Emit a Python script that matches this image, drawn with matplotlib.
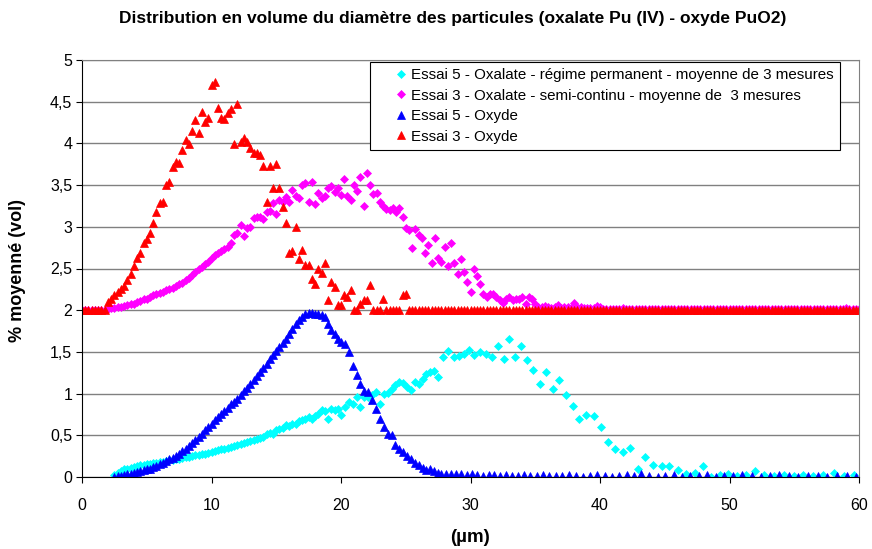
import matplotlib
matplotlib.use('Agg')
import matplotlib.pyplot as plt
from matplotlib.ticker import FuncFormatter

plt.rcParams['font.family'] = ['Liberation Sans', 'DejaVu Sans']

# ---- Essai 3 (oxalate semi-continu and oxyde), offset +2 on the chart ----
x_essai3 = [
    0.0, 0.25, 0.5, 0.75, 1.0, 1.25, 1.5, 1.75,
    2.0, 2.25, 2.5, 2.75, 3.0, 3.25, 3.5, 3.75,
    4.0, 4.25, 4.5, 4.75, 5.0, 5.25, 5.5, 5.75,
    6.0, 6.25, 6.5, 6.75, 7.0, 7.25, 7.5, 7.75,
    8.0, 8.25, 8.5, 8.75, 9.0, 9.25, 9.5, 9.75,
    10.0, 10.25, 10.5, 10.75, 11.0, 11.25, 11.5, 11.75,
    12.0, 12.25, 12.5, 12.75, 13.0, 13.25, 13.5, 13.75,
    14.0, 14.25, 14.5, 14.75, 15.0, 15.25, 15.5, 15.75,
    16.0, 16.25, 16.5, 16.75, 17.0, 17.25, 17.5, 17.75,
    18.0, 18.25, 18.5, 18.75, 19.0, 19.25, 19.5, 19.75,
    20.0, 20.25, 20.5, 20.75, 21.0, 21.25, 21.5, 21.75,
    22.0, 22.25, 22.5, 22.75, 23.0, 23.25, 23.5, 23.75,
    24.0, 24.25, 24.5, 24.75, 25.0, 25.25, 25.5, 25.75,
    26.0, 26.25, 26.5, 26.75, 27.0, 27.25, 27.5, 27.75,
    28.0, 28.25, 28.5, 28.75, 29.0, 29.25, 29.5, 29.75,
    30.0, 30.25, 30.5, 30.75, 31.0, 31.25, 31.5, 31.75,
    32.0, 32.25, 32.5, 32.75, 33.0, 33.25, 33.5, 33.75,
    34.0, 34.25, 34.5, 34.75, 35.0, 35.25, 35.5, 35.75,
    36.0, 36.25, 36.5, 36.75, 37.0, 37.25, 37.5, 37.75,
    38.0, 38.25, 38.5, 38.75, 39.0, 39.25, 39.5, 39.75,
    40.0, 40.25, 40.5, 40.75, 41.0, 41.25, 41.5, 41.75,
    42.0, 42.25, 42.5, 42.75, 43.0, 43.25, 43.5, 43.75,
    44.0, 44.25, 44.5, 44.75, 45.0, 45.25, 45.5, 45.75,
    46.0, 46.25, 46.5, 46.75, 47.0, 47.25, 47.5, 47.75,
    48.0, 48.25, 48.5, 48.75, 49.0, 49.25, 49.5, 49.75,
    50.0, 50.25, 50.5, 50.75, 51.0, 51.25, 51.5, 51.75,
    52.0, 52.25, 52.5, 52.75, 53.0, 53.25, 53.5, 53.75,
    54.0, 54.25, 54.5, 54.75, 55.0, 55.25, 55.5, 55.75,
    56.0, 56.25, 56.5, 56.75, 57.0, 57.25, 57.5, 57.75,
    58.0, 58.25, 58.5, 58.75, 59.0, 59.25, 59.5, 59.75,
    60.0,
]

oxalate_essai3 = [
    2.0, 2.0, 2.0, 2.0, 2.0, 2.0, 2.0, 2.0,
    2.02, 2.03, 2.03, 2.04, 2.04, 2.05, 2.06, 2.07,
    2.08, 2.10, 2.11, 2.13, 2.14, 2.16, 2.18, 2.19,
    2.21, 2.22, 2.24, 2.26, 2.27, 2.29, 2.31, 2.33,
    2.36, 2.39, 2.42, 2.46, 2.49, 2.52, 2.55, 2.58,
    2.62, 2.66, 2.69, 2.71, 2.73, 2.76, 2.80, 2.90,
    2.92, 3.02, 2.89, 2.98, 3.00, 3.10, 3.12, 3.12,
    3.09, 3.18, 3.19, 3.29, 3.15, 3.32, 3.30, 3.36,
    3.30, 3.44, 3.37, 3.34, 3.50, 3.53, 3.30, 3.54,
    3.27, 3.41, 3.34, 3.37, 3.47, 3.49, 3.42, 3.46,
    3.38, 3.57, 3.37, 3.32, 3.50, 3.43, 3.60, 3.25,
    3.64, 3.50, 3.39, 3.41, 3.30, 3.25, 3.21, 3.20,
    3.22, 3.18, 3.22, 3.12, 2.98, 2.96, 2.74, 2.97,
    2.90, 2.86, 2.69, 2.78, 2.56, 2.86, 2.62, 2.58,
    2.76, 2.53, 2.81, 2.56, 2.43, 2.61, 2.46, 2.34,
    2.22, 2.49, 2.41, 2.31, 2.19, 2.16, 2.19, 2.19,
    2.16, 2.12, 2.09, 2.14, 2.16, 2.12, 2.13, 2.13,
    2.16, 2.07, 2.16, 2.14, 2.08, 2.04, 2.04, 2.05,
    2.04, 2.03, 2.04, 2.06, 2.03, 2.04, 2.04, 2.03,
    2.09, 2.04, 2.04, 2.03, 2.03, 2.03, 2.03, 2.05,
    2.04, 2.02, 2.02, 2.02, 2.02, 2.02, 2.01, 2.03,
    2.02, 2.01, 2.02, 2.01, 2.01, 2.02, 2.01, 2.01,
    2.01, 2.02, 2.01, 2.01, 2.02, 2.01, 2.01, 2.01,
    2.02, 2.01, 2.01, 2.01, 2.02, 2.01, 2.01, 2.02,
    2.01, 2.01, 2.01, 2.02, 2.01, 2.01, 2.01, 2.01,
    2.02, 2.01, 2.01, 2.01, 2.01, 2.02, 2.01, 2.01,
    2.01, 2.01, 2.02, 2.01, 2.01, 2.01, 2.01, 2.02,
    2.01, 2.01, 2.01, 2.01, 2.02, 2.01, 2.01, 2.01,
    2.01, 2.02, 2.01, 2.01, 2.01, 2.01, 2.02, 2.01,
    2.01, 2.01, 2.01, 2.01, 2.03, 2.02, 2.01, 2.01,
    2.01,
]

oxyde_essai3 = [
    2.0, 2.0, 2.0, 2.0, 2.0, 2.0, 2.0, 2.0,
    2.10, 2.14, 2.18, 2.22, 2.25, 2.29, 2.36, 2.44,
    2.53, 2.62, 2.68, 2.80, 2.85, 2.93, 3.04, 3.18,
    3.28, 3.30, 3.50, 3.54, 3.72, 3.78, 3.76, 3.92,
    4.04, 3.99, 4.15, 4.28, 4.12, 4.38, 4.26, 4.30,
    4.70, 4.74, 4.43, 4.31, 4.29, 4.36, 4.41, 3.99,
    4.47, 4.02, 4.06, 4.02, 3.95, 3.88, 3.89, 3.86,
    3.73, 3.30, 3.73, 3.46, 3.75, 3.46, 3.24, 3.04,
    2.68, 2.71, 3.00, 2.61, 2.72, 2.54, 2.54, 2.38,
    2.31, 2.49, 2.45, 2.56, 2.12, 2.34, 2.28, 2.06,
    2.06, 2.18, 2.16, 2.24, 2.00, 2.00, 2.08, 2.12,
    2.12, 2.30, 2.00, 2.00, 2.00, 2.14, 2.00, 2.00,
    2.00, 2.00, 2.00, 2.18, 2.19, 2.00, 2.00, 2.00,
    2.0, 2.0, 2.0, 2.0, 2.0, 2.0, 2.0, 2.0,
    2.0, 2.0, 2.0, 2.0, 2.0, 2.0, 2.0, 2.0,
    2.0, 2.0, 2.0, 2.0, 2.0, 2.0, 2.0, 2.0,
    2.0, 2.0, 2.0, 2.0, 2.0, 2.0, 2.0, 2.0,
    2.0, 2.0, 2.0, 2.0, 2.0, 2.0, 2.0, 2.0,
    2.0, 2.0, 2.0, 2.0, 2.0, 2.0, 2.0, 2.0,
    2.0, 2.0, 2.0, 2.0, 2.0, 2.0, 2.0, 2.0,
    2.0, 2.0, 2.0, 2.0, 2.0, 2.0, 2.0, 2.0,
    2.0, 2.0, 2.0, 2.0, 2.0, 2.0, 2.0, 2.0,
    2.0, 2.0, 2.0, 2.0, 2.0, 2.0, 2.0, 2.0,
    2.0, 2.0, 2.0, 2.0, 2.0, 2.0, 2.0, 2.0,
    2.0, 2.0, 2.0, 2.0, 2.0, 2.0, 2.0, 2.0,
    2.0, 2.0, 2.0, 2.0, 2.0, 2.0, 2.0, 2.0,
    2.0, 2.0, 2.0, 2.0, 2.0, 2.0, 2.0, 2.0,
    2.0, 2.0, 2.0, 2.0, 2.0, 2.0, 2.0, 2.0,
    2.0, 2.0, 2.0, 2.0, 2.0, 2.0, 2.0, 2.0,
    2.0, 2.0, 2.0, 2.0, 2.0, 2.0, 2.0, 2.0,
    2.0,
]

# ---- Essai 5 (oxalate regime permanent and oxyde) ----
x_fine_essai5 = [
    2.5, 2.75, 3.0, 3.25, 3.5, 3.75, 4.0, 4.25,
    4.5, 4.75, 5.0, 5.25, 5.5, 5.75, 6.0, 6.25,
    6.5, 6.75, 7.0, 7.25, 7.5, 7.75, 8.0, 8.25,
    8.5, 8.75, 9.0, 9.25, 9.5, 9.75, 10.0, 10.25,
    10.5, 10.75, 11.0, 11.25, 11.5, 11.75, 12.0, 12.25,
    12.5, 12.75, 13.0, 13.25, 13.5, 13.75, 14.0, 14.25,
    14.5, 14.75, 15.0, 15.25, 15.5, 15.75, 16.0, 16.25,
    16.5, 16.75, 17.0, 17.25, 17.5, 17.75, 18.0, 18.25,
    18.5, 18.75, 19.0, 19.25, 19.5, 19.75, 20.0,
    20.3, 20.6, 20.9, 21.2, 21.5, 21.8, 22.1, 22.4, 22.7, 23.0,
    23.3, 23.6, 23.9, 24.2, 24.5, 24.8, 25.1, 25.4, 25.7, 26.0,
    26.3, 26.6, 26.9, 27.2, 27.5,
]
x_tail_oxalate5 = [
    27.9, 28.3, 28.7, 29.1, 29.5, 29.9, 30.3, 30.75, 31.2, 31.65,
    32.1, 32.55, 33.0, 33.45, 33.9, 34.4, 34.85, 35.35, 35.85, 36.35,
    36.85, 37.35, 37.9, 38.4, 38.95, 39.5, 40.05, 40.6, 41.15, 41.75,
    42.3, 42.9, 43.5, 44.1, 44.75, 45.35, 46.0, 46.65, 47.3, 47.95,
    48.6, 49.25, 49.9, 50.6, 51.3, 52.0, 52.7, 53.45, 54.2, 54.95,
    55.7, 56.45, 57.25, 58.05, 58.85, 59.65,
]
x_tail_oxyde5 = [
    27.7, 28.1, 28.5, 28.9, 29.3, 29.7, 30.1, 30.5, 30.95, 31.4,
    31.85, 32.3, 32.75, 33.2, 33.7, 34.15, 34.6, 35.1, 35.6, 36.1,
    36.6, 37.1, 37.6, 38.15, 38.7, 39.2, 39.8, 40.35, 40.9, 41.45,
    42.05, 42.6, 43.2, 43.8, 44.45, 45.05, 45.7, 46.35, 46.95, 47.65,
    48.3, 48.95, 49.6, 50.3, 51.0, 51.7, 52.4, 53.1, 53.85, 54.6,
    55.3, 56.05, 56.8, 57.55, 58.3, 59.05, 59.8,
]

oxalate_essai5 = [
    0.02, 0.05, 0.07, 0.09, 0.10, 0.11, 0.12, 0.13,
    0.14, 0.145, 0.15, 0.16, 0.165, 0.17, 0.18, 0.185,
    0.19, 0.20, 0.205, 0.21, 0.22, 0.23, 0.235, 0.24,
    0.25, 0.26, 0.265, 0.27, 0.28, 0.29, 0.30, 0.31,
    0.32, 0.33, 0.34, 0.35, 0.36, 0.37, 0.38, 0.40,
    0.41, 0.42, 0.43, 0.44, 0.46, 0.47, 0.48, 0.51,
    0.53, 0.52, 0.56, 0.58, 0.59, 0.62, 0.61, 0.63,
    0.63, 0.67, 0.68, 0.69, 0.72, 0.70, 0.73, 0.75,
    0.80, 0.79, 0.70, 0.81, 0.80, 0.82, 0.74,
    0.84, 0.90, 0.88, 0.96, 0.84, 0.96, 0.96, 0.98, 1.02, 0.88,
    1.00, 1.01, 1.06, 1.10, 1.14, 1.13, 1.08, 1.04, 1.14, 1.12,
    1.18, 1.24, 1.26, 1.27, 1.20,
    1.435, 1.515, 1.435, 1.45, 1.48, 1.52, 1.46, 1.50, 1.48, 1.44,
    1.57, 1.41, 1.65, 1.435, 1.57, 1.40, 1.28, 1.115, 1.26, 1.06,
    1.16, 0.98, 0.85, 0.70, 0.74, 0.73, 0.60, 0.42, 0.34, 0.30,
    0.35, 0.10, 0.24, 0.14, 0.13, 0.13, 0.08, 0.04, 0.05, 0.13,
    0.00, 0.02, 0.03, 0.01, 0.02, 0.07, 0.02, 0.01, 0.02, 0.01,
    0.02, 0.01, 0.02, 0.05, 0.01, 0.02,
]

oxyde_essai5 = [
    0.00, 0.01, 0.015, 0.02, 0.03, 0.04, 0.05, 0.06,
    0.07, 0.08, 0.09, 0.10, 0.12, 0.13, 0.15, 0.17,
    0.19, 0.21, 0.23, 0.25, 0.28, 0.31, 0.34, 0.37,
    0.41, 0.44, 0.48, 0.52, 0.56, 0.60, 0.64, 0.68,
    0.72, 0.75, 0.79, 0.83, 0.87, 0.90, 0.94, 0.98,
    1.03, 1.07, 1.11, 1.16, 1.21, 1.26, 1.31, 1.35,
    1.41, 1.46, 1.51, 1.56, 1.61, 1.66, 1.72, 1.77,
    1.84, 1.88, 1.92, 1.95, 1.97, 1.97, 1.95, 1.96,
    1.94, 1.92, 1.84, 1.76, 1.72, 1.66, 1.62,
    1.60, 1.50, 1.33, 1.22, 1.12, 1.03, 1.02, 0.92, 0.82, 0.70,
    0.60, 0.52, 0.50, 0.38, 0.33, 0.30, 0.25, 0.21, 0.17, 0.14,
    0.11, 0.08, 0.09, 0.07, 0.05,
    0.04, 0.035, 0.03, 0.03, 0.04, 0.02, 0.03, 0.02, 0.01, 0.02,
    0.02, 0.01, 0.02, 0.01, 0.01, 0.02, 0.01, 0.01, 0.02, 0.01,
    0.01, 0.01, 0.02, 0.01, 0.00, 0.01, 0.02, 0.01, 0.00, 0.01,
    0.02, 0.01, 0.03, 0.01, 0.00, 0.01, 0.02, 0.00, 0.01, 0.01,
    0.02, 0.00, 0.01, 0.01, 0.02, 0.01, 0.00, 0.01, 0.02, 0.01,
    0.00, 0.01, 0.01, 0.00, 0.01, 0.01, 0.00,
]

labels = [
    'Essai 5 - Oxalate - régime permanent - moyenne de 3 mesures',
    'Essai 3 - Oxalate - semi-continu - moyenne de  3 mesures',
    'Essai 5 - Oxyde',
    'Essai 3 - Oxyde',
]
y_ticks = [0, 0.5, 1, 1.5, 2, 2.5, 3, 3.5, 4, 4.5, 5]
x_ticks = [0, 10, 20, 30, 40, 50, 60]

x_oxalate5 = x_fine_essai5 + x_tail_oxalate5
x_oxyde5 = x_fine_essai5 + x_tail_oxyde5

fig = plt.figure(figsize=(8.72, 5.49), dpi=100)
ax = fig.add_axes([82 / 872, 1 - 477 / 549, (859 - 82) / 872, (477 - 60) / 549])

ax.plot(x_oxalate5, oxalate_essai5, ls='none', marker='D', ms=3.7,
        color='#00FFFF', mec='#00FFFF', mew=0.5, label=labels[0])
ax.plot(x_essai3, oxalate_essai3, ls='none', marker='D', ms=3.7,
        color='#FF00FF', mec='#FF00FF', mew=0.5, label=labels[1])
ax.plot(x_oxyde5, oxyde_essai5, ls='none', marker='^', ms=5.3,
        color='#0000FF', mec='#0000FF', mew=0.5, label=labels[2])
ax.plot(x_essai3, oxyde_essai3, ls='none', marker='^', ms=5.3,
        color='#FF0000', mec='#FF0000', mew=0.5, label=labels[3])

ax.set_xlim(0, 60)
ax.set_ylim(0, 5)
ax.set_xticks(x_ticks)
ax.set_yticks(y_ticks)
ax.yaxis.set_major_formatter(FuncFormatter(lambda v, p: ('%g' % v).replace('.', ',')))
ax.tick_params(labelsize=11.5, length=4, width=0.8, direction='out')
ax.tick_params(axis='y', pad=3)
ax.tick_params(axis='x', pad=11)
ax.grid(axis='y', color='#808080', lw=1.0)
ax.set_axisbelow(True)
for side in ['left', 'bottom']:
    ax.spines[side].set_color('black')
for side in ['right', 'top']:
    ax.spines[side].set_color('#808080')

leg = ax.legend(loc='upper right', bbox_to_anchor=((840 - 82) / 777, (477 - 62) / 417),
                fontsize=10.9, frameon=True, fancybox=False, framealpha=1,
                edgecolor='black', borderpad=0.4, handlelength=3.3,
                handletextpad=-1.0, labelspacing=0.43, borderaxespad=0,
                numpoints=1)
leg.get_frame().set_linewidth(0.8)

fig.text(453 / 872, 1 - 18 / 549,
         'Distribution en volume du diamètre des particules (oxalate Pu (IV) - oxyde PuO2)',
         ha='center', va='center', fontsize=12.5, fontweight='bold')
fig.text(18 / 872, 1 - 270 / 549, '% moyenné (vol)', rotation=90,
         ha='center', va='center', fontsize=13, fontweight='bold')
fig.text(470 / 872, 1 - 537 / 549, '(µm)', ha='center', va='center',
         fontsize=13.5, fontweight='bold')

fig.savefig('out.png', dpi=100)
plt.close(fig)
